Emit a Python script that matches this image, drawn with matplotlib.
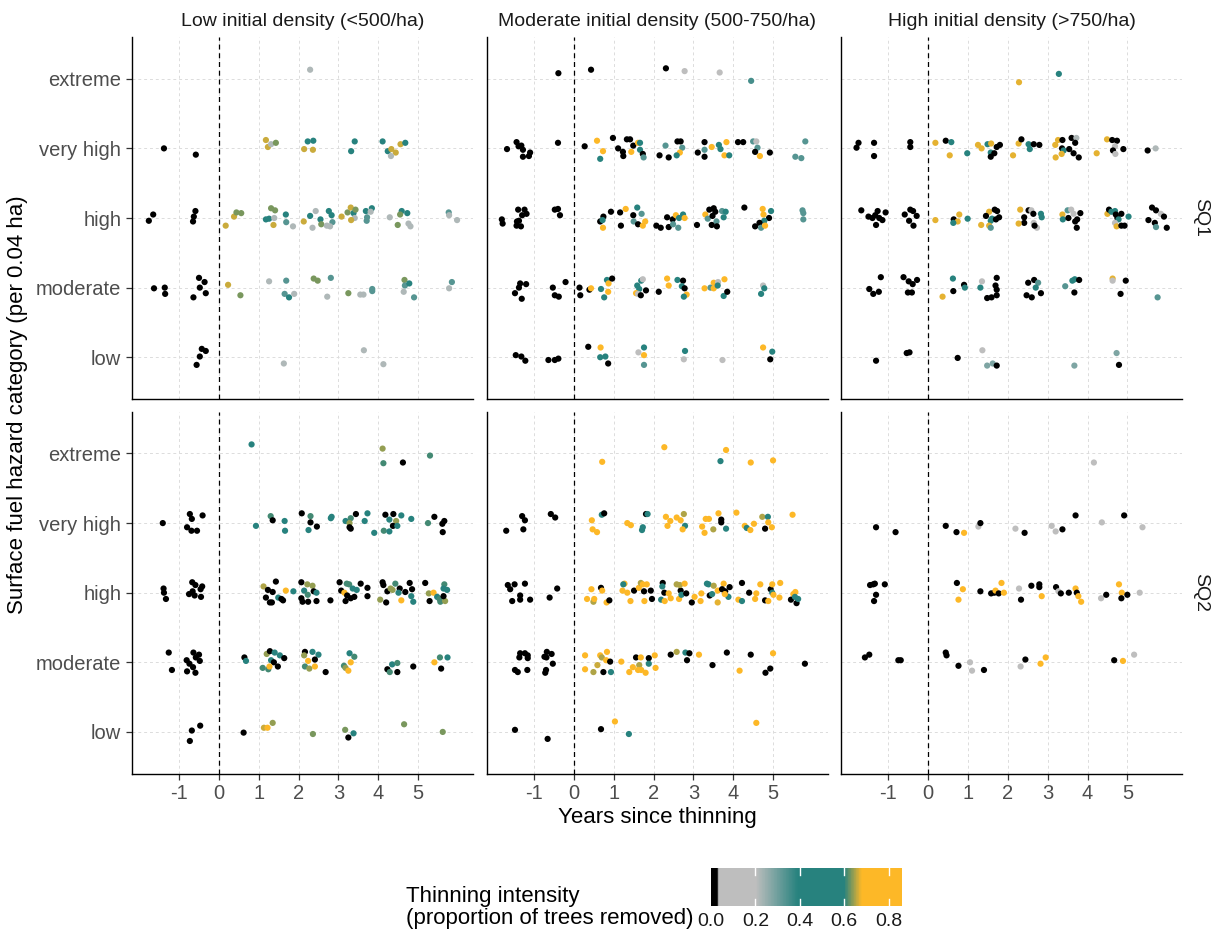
import matplotlib
matplotlib.use("Agg")
import matplotlib.pyplot as plt
import numpy as np
from matplotlib.colors import LinearSegmentedColormap, Normalize
from matplotlib.cm import ScalarMappable

plt.rcParams["font.family"] = ["Liberation Sans", "DejaVu Sans"]

# --- data: (years since thinning, hazard category + jitter, thinning intensity) ---
hazard_labels = ["low", "moderate", "high", "very high", "extreme"]
density_labels = ["Low initial density (<500/ha)",
                  "Moderate initial density (500-750/ha)",
                  "High initial density (>750/ha)"]
site_labels = ["SQ1", "SQ2"]
cbar_ticks = [0.0, 0.2, 0.4, 0.6, 0.8]

low_sq1 = [
    (2.29, 5.13, .22),
    (-1.38, 4.0, 0), (-0.58, 3.91, 0), (1.18, 4.12, .66), (1.23, 4.02, .66), (1.31, 4.06, .22), (1.43, 4.08, .63),
    (2.23, 4.10, .45), (2.37, 4.11, .45), (2.14, 3.99, .66), (2.36, 3.98, .66), (3.41, 4.10, .45), (3.32, 3.96, .45),
    (4.11, 4.10, .45), (4.24, 3.96, .45), (4.33, 3.99, .66), (4.44, 3.94, .66), (4.32, 3.89, .22), (4.56, 4.06, .66),
    (4.68, 4.08, .45),
    (-1.65, 3.05, 0), (-1.76, 2.96, 0), (-0.59, 3.10, 0), (-0.63, 3.02, 0), (-0.65, 2.95, 0), (0.17, 2.89, .66),
    (0.38, 3.02, .66), (0.44, 3.08, .63), (0.56, 3.07, .63), (1.18, 2.98, .45), (1.26, 2.99, .45), (1.31, 3.14, .63),
    (1.41, 3.11, .63), (1.39, 3.0, .22), (1.37, 2.90, .66), (1.68, 3.05, .45), (1.69, 2.94, .33), (1.86, 2.88, .22),
    (2.13, 2.95, .66), (2.29, 3.03, .45), (2.35, 2.86, .22), (2.43, 3.10, .22), (2.55, 2.98, .45), (2.57, 2.91, .63),
    (2.76, 3.10, .45), (2.83, 3.04, .45), (2.85, 2.94, .33), (2.71, 2.89, .22), (2.79, 2.88, .22), (3.08, 3.02, .66),
    (3.23, 3.08, .63), (3.31, 3.15, .66), (3.38, 3.07, .45), (3.43, 3.12, .63), (3.41, 3.0, .22), (3.32, 2.97, .66),
    (3.69, 3.10, .45), (3.84, 3.14, .45), (3.81, 3.09, .22), (3.72, 3.01, .33), (3.71, 2.96, .33), (4.29, 3.01, .22),
    (4.59, 3.10, .45), (4.55, 3.05, .63), (4.73, 3.07, .45), (4.49, 2.90, .63), (4.76, 2.92, .22), (4.81, 2.88, .22),
    (5.77, 3.08, .33), (5.78, 3.04, .22), (5.98, 2.97, .22),
    (-1.63, 1.99, 0), (-1.36, 2.0, 0), (-1.35, 1.91, 0), (-0.5, 2.14, 0), (-0.36, 2.08, 0), (-0.48, 2.0, 0),
    (-0.33, 1.92, 0), (-0.64, 1.86, 0), (0.23, 2.04, .66), (0.54, 1.89, .63), (1.26, 2.09, .22), (1.69, 2.10, .33),
    (1.65, 1.91, .33), (1.76, 1.86, .45), (1.89, 1.91, .22), (2.38, 2.13, .63), (2.48, 2.10, .63), (2.81, 2.14, .33),
    (2.72, 1.87, .22), (3.25, 1.92, .63), (3.55, 1.90, .22), (3.63, 1.90, .22), (3.85, 1.98, .33), (3.85, 1.95, .33),
    (4.66, 2.11, .63), (4.67, 2.03, .33), (4.78, 2.06, .45), (4.64, 1.94, .22), (4.90, 1.86, .33), (5.85, 2.08, .33),
    (5.78, 1.99, .22),
    (-0.43, 1.12, 0), (-0.33, 1.09, 0), (-0.48, 1.01, 0), (-0.56, 0.89, 0), (1.63, 0.91, .22), (3.64, 1.10, .22),
    (4.13, 0.90, .22),
]

mod_sq1 = [
    (-0.39, 5.08, 0), (0.43, 5.13, 0), (2.31, 5.15, 0), (2.78, 5.11, .1), (3.66, 5.09, .1), (4.45, 4.97, .35),
    (-1.68, 3.99, 0), (-1.44, 4.09, 0), (-1.39, 4.03, 0), (-1.32, 4.04, 0), (-1.28, 3.98, 0), (-1.28, 3.88, 0),
    (-1.10, 3.94, 0), (-1.13, 3.89, 0), (-0.40, 4.08, 0), (0.27, 4.03, 0), (0.58, 4.11, .8), (0.73, 3.96, .8),
    (0.66, 3.85, .45), (0.98, 4.15, 0), (1.11, 4.0, 0), (1.23, 3.95, 0), (1.24, 3.89, 0), (1.33, 4.13, 0),
    (1.41, 4.13, 0), (1.44, 3.95, .8), (1.49, 4.04, 0), (1.61, 4.08, .8), (1.66, 3.98, .45), (1.66, 4.08, .45),
    (1.73, 3.92, 0), (1.75, 3.87, .33), (2.15, 3.90, 0), (2.30, 4.04, .33), (2.38, 3.87, 0), (2.6, 4.10, 0),
    (2.68, 4.10, 0), (2.72, 4.01, .33), (2.66, 3.94, .8), (2.58, 3.90, .45), (3.11, 3.94, 0), (3.28, 4.09, 0),
    (3.28, 3.98, .33), (3.28, 3.88, 0), (3.46, 4.02, .8), (3.64, 4.05, .45), (3.68, 3.99, .45), (3.83, 4.09, .8),
    (3.78, 3.90, .8), (3.90, 3.90, .45), (4.12, 4.09, 0), (4.25, 4.09, 0), (4.5, 4.10, .33), (4.58, 4.10, .1),
    (4.61, 4.01, .33), (4.55, 3.95, 0), (4.67, 3.89, .8), (4.92, 3.94, 0), (5.56, 3.88, .33), (5.71, 3.86, .33),
    (5.81, 4.10, .33),
    (-1.81, 2.98, 0), (-1.79, 2.92, 0), (-1.4, 3.12, 0), (-1.24, 3.12, 0), (-1.19, 3.06, 0), (-1.3, 3.04, 0),
    (-1.43, 2.95, 0), (-1.44, 2.89, 0), (-1.33, 2.88, 0), (-1.38, 2.96, 0), (-0.48, 3.12, 0), (-0.40, 3.13, 0),
    (-0.35, 3.04, 0), (0.66, 2.95, 0), (0.74, 3.02, 0), (0.72, 2.97, .45), (0.73, 2.86, .8), (0.93, 3.09, 0),
    (1.16, 3.08, 0), (1.18, 2.89, 0), (1.3, 3.13, .8), (1.49, 3.04, 0), (1.5, 2.95, .33), (1.59, 3.15, .45),
    (1.70, 3.06, .33), (1.61, 2.91, 0), (1.73, 2.89, .8), (1.79, 2.95, .8), (2.07, 2.89, 0), (2.18, 2.86, 0),
    (2.34, 3.01, 0), (2.38, 2.87, 0), (2.48, 2.98, 0), (2.56, 3.04, .8), (2.49, 2.91, .33), (2.62, 2.86, .33),
    (2.64, 3.0, .45), (2.74, 3.05, .45), (2.78, 3.0, .8), (3.09, 2.90, 0), (3.3, 3.05, .8), (3.36, 2.99, .33),
    (3.4, 3.12, 0), (3.51, 3.14, 0), (3.55, 3.09, 0), (3.48, 3.03, 0), (3.58, 2.95, .33), (3.46, 2.90, 0),
    (3.59, 2.88, 0), (3.72, 3.10, .33), (3.81, 3.09, .45), (3.76, 3.01, .45), (4.28, 3.15, 0), (4.74, 3.13, .8),
    (4.95, 3.10, .45), (4.76, 3.05, .8), (4.9, 3.0, 0), (4.78, 2.96, .45), (4.66, 2.93, 0), (4.55, 2.88, 0),
    (4.7, 2.86, .33), (4.80, 2.89, .8), (5.74, 3.11, .33), (5.76, 3.07, .33), (5.76, 2.98, .33),
    (-1.35, 2.06, 0), (-1.38, 2.0, 0), (-1.48, 1.92, 0), (-1.31, 1.84, 0), (-1.2, 2.05, 0), (-0.53, 2.0, 0),
    (-0.48, 1.89, 0), (-0.38, 1.87, 0), (-0.21, 2.08, 0), (0.14, 2.0, 0), (0.16, 1.89, 0), (0.39, 1.97, 0),
    (0.43, 1.99, .8), (0.68, 1.98, .45), (0.83, 2.11, .45), (0.87, 2.06, .8), (0.96, 2.13, 0), (0.86, 1.94, .8),
    (0.76, 1.86, .45), (1.59, 2.03, .45), (1.69, 2.10, .45), (1.73, 2.12, .1), (1.64, 1.98, .45), (1.56, 1.92, .8),
    (1.61, 1.91, .1), (1.68, 1.89, 0), (1.81, 1.96, 0), (2.13, 1.94, 0), (2.34, 2.13, .8), (2.38, 2.03, .8),
    (2.6, 2.11, .45), (2.74, 2.10, 0), (2.71, 2.02, .45), (2.78, 1.99, 0), (2.83, 1.90, .8), (2.76, 1.87, .45),
    (3.28, 1.99, .8), (3.43, 2.0, .33), (3.51, 2.07, .8), (3.51, 1.99, .8), (3.62, 2.08, .1), (3.61, 2.03, .45),
    (3.78, 2.12, .8), (3.76, 1.88, .45), (3.85, 1.94, 0), (4.75, 2.03, .1), (4.78, 1.99, .45), (4.7, 1.91, .45),
    (-1.46, 1.03, 0), (-1.32, 1.01, 0), (-1.22, 0.95, 0), (-0.64, 0.96, 0), (-0.48, 0.96, 0), (-0.39, 0.98, 0),
    (0.36, 1.15, 0), (0.67, 1.14, .8), (0.66, 1.0, .45), (0.79, 1.01, .45), (0.86, 0.91, 0), (1.62, 1.07, .1),
    (1.76, 1.14, .45), (1.76, 1.03, .8), (1.76, 0.89, .33), (2.79, 1.09, .45), (2.76, 0.97, .1), (3.73, 0.96, .1),
    (4.75, 1.14, .8), (4.98, 1.08, .45), (4.93, 0.97, 0),
]

high_sq1 = [
    (2.28, 4.95, .67), (3.28, 5.07, .45),
    (-1.8, 4.01, 0), (-1.75, 4.08, 0), (-1.36, 4.08, 0), (-1.36, 3.89, 0), (-0.45, 4.09, 0), (-0.45, 4.02, 0),
    (0.18, 4.08, .67), (0.54, 3.90, .67), (0.44, 4.11, 0), (0.58, 4.09, .45), (0.98, 3.93, .45), (1.25, 4.05, .67),
    (1.34, 4.0, .67), (1.49, 4.06, .45), (1.58, 4.07, .67), (1.57, 3.94, .45), (1.66, 3.93, 0), (1.57, 3.88, 0),
    (1.72, 4.02, 0), (1.80, 4.05, 0), (2.13, 3.90, .67), (2.27, 4.07, .67), (2.34, 4.13, 0), (2.52, 4.06, .45),
    (2.55, 3.99, .45), (2.65, 4.06, 0), (2.79, 4.05, 0), (3.19, 4.05, .67), (3.2, 3.87, .67), (3.26, 4.12, .67),
    (3.37, 4.12, 0), (3.36, 4.0, 0), (3.4, 3.97, .45), (3.35, 3.92, .67), (3.6, 4.15, 0), (3.72, 4.15, .22),
    (3.69, 4.08, 0), (3.54, 3.99, 0), (3.65, 3.93, 0), (3.78, 3.87, 0), (4.23, 3.93, .67), (4.49, 4.13, .67),
    (4.62, 4.12, 0), (4.74, 4.11, 0), (4.69, 4.03, .1), (4.64, 3.97, 0), (4.70, 3.92, .1), (4.9, 3.99, 0),
    (5.51, 3.97, 0), (5.71, 4.0, .22),
    (-1.68, 3.11, 0), (-1.5, 3.02, 0), (-1.33, 3.04, 0), (-1.27, 3.10, 0), (-1.23, 3.0, 0), (-1.07, 3.08, 0),
    (-1.15, 2.97, 0), (-1.31, 2.90, 0), (-1.40, 3.0, 0), (-0.59, 3.05, 0), (-0.45, 3.12, 0), (-0.38, 3.10, 0),
    (-0.29, 3.03, 0), (-0.37, 2.89, 0), (-0.48, 2.96, 0), (0.18, 2.97, .67), (0.64, 2.98, 0), (0.74, 2.95, .67),
    (0.63, 2.93, .45), (0.78, 3.05, .67), (0.99, 2.99, .45), (1.33, 2.90, .67), (1.53, 3.09, .67), (1.45, 3.03, 0),
    (1.60, 2.99, .45), (1.57, 2.96, .45), (1.53, 2.89, .67), (1.57, 2.86, .33), (1.67, 3.12, 0), (1.73, 3.10, 0),
    (1.78, 3.01, 0), (1.70, 2.98, 0), (2.31, 3.12, .67), (2.41, 3.01, 0), (2.41, 2.93, 0), (2.27, 2.92, .67),
    (2.52, 3.11, 0), (2.59, 3.11, .1), (2.64, 3.06, 0), (2.65, 2.93, .1), (2.73, 2.86, .1), (2.67, 2.89, 0),
    (2.83, 3.06, .45), (2.85, 3.01, .45), (3.37, 3.05, .67), (3.38, 2.98, .45), (3.5, 3.11, .33), (3.59, 3.12, .1),
    (3.52, 3.0, 0), (3.65, 3.06, .1), (3.69, 2.95, 0), (3.74, 2.98, 0), (3.82, 3.07, 0), (3.73, 2.86, 0),
    (4.5, 3.06, .67), (4.54, 3.12, 0), (4.60, 3.09, .45), (4.69, 3.10, .45), (4.71, 3.05, 0), (4.85, 3.06, 0),
    (4.75, 3.0, 0), (4.78, 2.98, .45), (4.69, 2.93, .1), (4.73, 2.88, .67), (4.85, 2.89, 0), (4.93, 2.89, 0),
    (5.03, 3.02, .45), (5.62, 3.15, 0), (5.72, 3.11, 0), (5.84, 3.06, .1), (5.92, 3.02, 0), (5.53, 2.97, 0),
    (5.69, 2.93, 0), (5.72, 2.87, .33), (5.99, 2.86, 0),
    (-1.19, 2.15, 0), (-1.48, 1.98, 0), (-1.38, 1.91, 0), (-1.24, 1.94, 0), (-0.62, 2.15, 0), (-0.49, 2.09, 0),
    (-0.28, 2.11, 0), (-0.39, 2.05, 0), (-0.51, 1.93, 0), (-0.41, 1.93, 0), (0.36, 1.87, .67), (0.62, 2.13, .45),
    (0.63, 1.95, 0), (0.9, 2.04, 0), (0.92, 2.0, .45), (1.35, 2.09, .1), (1.31, 2.0, .45), (1.72, 2.14, 0),
    (1.69, 2.03, 0), (1.72, 1.97, 0), (1.72, 1.89, 0), (1.59, 1.86, 0), (1.48, 1.85, 0), (2.51, 2.07, 0),
    (2.66, 2.11, 0), (2.76, 2.07, .33), (2.70, 2.0, .45), (2.47, 1.89, 0), (2.60, 1.86, 0), (2.83, 1.92, 0),
    (3.44, 2.02, .33), (3.62, 2.10, .45), (3.68, 2.12, .45), (3.79, 2.11, 0), (3.67, 1.93, 0), (4.63, 2.13, .67),
    (4.63, 2.10, .1), (4.96, 2.10, 0), (4.83, 1.91, 0), (5.76, 1.86, .33),
    (-1.31, 0.95, 0), (-0.54, 1.06, 0), (-0.47, 1.07, 0), (0.74, 0.99, 0), (1.36, 1.10, .1), (1.48, 0.88, .28),
    (1.62, 0.91, .28), (1.72, 0.88, 0), (3.67, 0.88, .28), (4.73, 1.06, .28), (4.79, 0.89, 0),
]

low_sq2 = [
    (0.82, 5.13, .45), (4.11, 5.07, .64), (4.13, 4.86, .61), (4.62, 4.87, 0), (5.30, 4.97, .61),
    (-1.41, 4.0, 0), (-0.73, 4.13, 0), (-0.68, 4.06, 0), (-0.41, 4.11, 0), (-0.80, 3.94, 0), (-0.69, 3.89, 0),
    (-0.55, 3.89, 0), (0.93, 3.96, .45), (1.30, 4.10, .61), (1.35, 4.04, 0), (1.65, 4.03, .45), (1.66, 3.89, .45),
    (2.08, 4.14, 0), (2.3, 4.10, .61), (2.3, 4.01, 0), (2.46, 3.95, 0), (2.25, 3.90, .45), (2.81, 4.07, .45),
    (2.83, 4.09, .45), (3.18, 4.03, .45), (3.31, 4.07, .61), (3.28, 4.0, .64), (3.28, 3.94, 0), (3.31, 3.92, 0),
    (3.44, 4.13, 0), (3.66, 4.03, .45), (3.73, 4.14, .45), (3.9, 3.86, .45), (4.18, 4.12, 0), (4.38, 4.13, 0),
    (4.28, 4.05, .45), (4.45, 4.03, .64), (4.37, 3.96, 0), (4.48, 3.96, .45), (4.58, 4.11, .45), (4.14, 3.89, .61),
    (4.28, 3.88, .45), (4.83, 4.06, .45), (5.25, 4.0, .61), (5.41, 4.09, 0), (5.66, 4.03, 0), (5.61, 3.99, 0),
    (5.62, 3.87, 0),
    (-1.39, 3.06, 0), (-1.38, 3.0, 0), (-1.33, 2.91, 0), (-0.67, 3.15, 0), (-0.59, 3.11, 0), (-0.42, 3.09, 0),
    (-0.46, 3.05, 0), (-0.66, 3.02, 0), (-0.75, 2.98, 0), (-0.61, 2.96, 0), (-0.45, 2.94, 0), (1.12, 3.09, .65),
    (1.43, 3.16, 0), (1.23, 3.04, 0), (1.35, 3.01, 0), (1.18, 2.93, 0), (1.28, 2.86, 0), (1.33, 2.86, 0),
    (1.49, 2.93, .45), (1.57, 2.91, 0), (1.61, 2.89, 0), (1.68, 3.03, .7), (1.87, 3.02, .45), (2.07, 3.15, 0),
    (2.22, 3.12, .64), (2.35, 3.10, .64), (2.14, 3.03, .45), (2.38, 3.02, 0), (2.45, 3.0, .45), (2.23, 2.97, .61),
    (2.07, 2.92, 0), (2.1, 2.87, 0), (2.24, 2.87, 0), (2.45, 2.88, 0), (2.8, 2.89, 0), (3.03, 3.15, 0),
    (3.21, 3.13, .61), (3.27, 3.12, .61), (3.07, 3.03, 0), (3.15, 3.0, .7), (3.22, 2.96, 0), (3.36, 3.06, .45),
    (3.46, 3.04, .45), (3.56, 3.13, 0), (3.4, 2.94, 0), (3.31, 2.92, 0), (3.18, 2.88, 0), (3.73, 3.07, 0),
    (3.73, 2.95, 0), (4.11, 3.15, 0), (4.13, 3.11, 0), (4.05, 2.90, .64), (4.2, 2.86, 0), (4.23, 3.02, 0),
    (4.31, 3.06, .64), (4.36, 3.04, .64), (4.43, 3.13, .61), (4.54, 3.06, 0), (4.51, 3.0, .45), (4.58, 2.89, .7),
    (4.68, 3.01, 0), (4.79, 3.14, 0), (4.85, 3.05, 0), (4.83, 2.95, .45), (4.88, 2.87, .45), (5.18, 3.14, 0),
    (5.27, 2.99, .64), (5.39, 3.0, .7), (5.29, 2.88, 0), (5.48, 2.94, .45), (5.54, 2.91, .61), (5.66, 3.12, .61),
    (5.64, 3.06, .45), (5.73, 3.04, .45), (5.56, 2.87, .61), (5.68, 2.88, .64), (5.64, 2.95, 0),
    (-1.26, 2.14, 0), (-1.18, 1.89, 0), (-0.64, 2.14, 0), (-0.5, 2.11, 0), (-0.81, 2.03, 0), (-0.74, 1.98, 0),
    (-0.58, 2.07, 0), (-0.48, 2.02, 0), (-0.65, 1.93, 0), (-0.8, 1.87, 0), (-0.59, 1.85, 0), (0.64, 2.07, 0),
    (0.68, 2.02, .45), (1.2, 2.12, .64), (1.28, 2.16, 0), (1.4, 2.14, .45), (1.53, 2.10, .45), (1.64, 2.06, 0),
    (1.31, 2.03, .45), (1.38, 2.0, 0), (1.1, 1.92, .61), (1.24, 1.90, .61), (1.27, 1.94, .7), (1.48, 1.94, 0),
    (2.16, 2.15, 0), (2.14, 2.10, .64), (2.35, 2.15, .45), (2.5, 2.11, .45), (2.24, 2.02, .7), (2.41, 2.04, 0),
    (2.16, 1.94, .61), (2.27, 1.91, .64), (2.41, 1.94, .7), (2.68, 1.86, 0), (3.28, 2.13, .45), (3.4, 2.08, .61),
    (3.14, 1.95, .61), (3.18, 1.92, .64), (3.31, 2.0, .7), (3.25, 1.88, .7), (4.23, 1.90, 0), (4.29, 1.86, .61),
    (4.35, 1.97, .45), (4.48, 1.99, .61), (4.48, 1.86, 0), (4.88, 1.94, 0), (5.41, 2.0, .7), (5.55, 2.07, .61),
    (5.74, 2.07, .45), (5.58, 1.91, 0),
    (-0.47, 1.09, 0), (-0.68, 1.02, 0), (-0.73, 0.87, 0), (0.62, 0.99, 0), (1.13, 1.06, .66), (1.22, 1.06, .7),
    (1.35, 1.13, .64), (2.36, 0.97, .63), (3.17, 1.03, .63), (3.38, 0.98, .45), (3.25, 0.92, 0), (4.65, 1.11, .63),
    (5.62, 1.0, .63),
]

mod_sq2 = [
    (0.71, 4.88, .8), (2.27, 5.09, .8), (3.82, 5.05, .8), (3.68, 4.89, .45), (4.44, 4.87, .8), (5.0, 4.90, .8),
    (-1.7, 3.89, 0), (-1.3, 4.10, 0), (-1.23, 4.04, 0), (-1.27, 3.91, 0), (-0.58, 4.13, 0), (-0.47, 4.08, 0),
    (0.45, 4.04, .8), (0.47, 3.91, .8), (0.58, 3.87, .8), (0.7, 4.12, .45), (0.76, 4.14, 0), (1.34, 4.0, .8),
    (1.43, 3.97, .8), (1.73, 3.94, .55), (1.71, 3.90, .45), (1.81, 4.13, 0), (1.85, 4.13, .45), (2.31, 4.09, .8),
    (2.42, 4.03, .8), (2.58, 4.08, .8), (2.35, 3.96, .8), (2.68, 4.04, .8), (2.76, 4.13, .65), (2.79, 3.96, .45),
    (2.73, 3.91, .8), (3.22, 3.95, .8), (3.31, 4.06, .8), (3.39, 4.06, .8), (3.28, 3.86, .8), (3.5, 3.91, .65),
    (3.63, 4.14, .8), (3.7, 4.05, 0), (3.7, 4.01, 0), (3.82, 3.92, .45), (4.08, 4.15, .8), (4.29, 3.96, .8),
    (4.34, 3.93, .45), (4.43, 3.9, .8), (4.52, 3.99, .8), (4.73, 4.09, .65), (4.87, 4.09, .45), (4.88, 4.01, .8),
    (4.8, 3.92, 0), (4.97, 3.94, .8), (5.49, 4.12, .8),
    (-1.66, 3.11, 0), (-1.49, 3.12, 0), (-1.23, 3.13, 0), (-1.6, 3.05, 0), (-1.35, 2.96, 0), (-1.35, 2.90, 0),
    (-1.55, 2.88, 0), (-1.1, 2.90, 0), (-0.61, 2.93, 0), (-0.42, 3.06, 0), (0.44, 3.05, .8), (0.68, 3.07, 0),
    (0.71, 3.03, .8), (0.33, 2.91, .8), (0.49, 2.87, .65), (0.51, 2.91, .8), (0.82, 2.86, .8), (0.89, 2.89, 0),
    (1.22, 3.03, .8), (1.27, 3.13, .8), (1.24, 3.12, .45), (1.34, 3.0, .8), (1.42, 2.88, .8), (1.51, 3.03, 0),
    (1.63, 3.07, .8), (1.68, 3.14, .65), (1.73, 3.12, .8), (1.76, 3.02, 0), (1.83, 3.12, .8), (1.77, 2.88, .8),
    (1.93, 3.03, 0), (1.96, 2.91, 0), (2.19, 2.90, .45), (2.23, 3.14, 0), (2.22, 3.09, .45), (2.28, 2.88, .8),
    (2.27, 3.0, 0), (2.38, 2.99, .8), (2.43, 2.92, .8), (2.58, 3.12, .65), (2.64, 2.91, .8), (2.68, 3.03, 0),
    (2.66, 3.11, .65), (2.7, 2.97, .45), (2.78, 3.13, .8), (2.82, 2.99, 0), (2.96, 2.86, 0), (3.03, 2.94, .8),
    (3.2, 2.99, .8), (3.18, 2.88, .8), (3.34, 3.13, .45), (3.38, 3.12, .45), (3.41, 2.96, 0), (3.47, 2.98, .45),
    (3.51, 3.10, .65), (3.61, 3.03, .8), (3.61, 2.86, .67), (3.76, 3.13, .8), (3.72, 3.05, 0), (3.8, 3.02, 0),
    (3.91, 3.08, 0), (3.88, 2.94, .45), (3.79, 2.98, .8), (4.13, 2.90, .8), (4.22, 3.14, 0), (4.22, 2.88, .45),
    (4.4, 3.0, 0), (4.58, 2.99, .8), (4.55, 2.91, .8), (4.68, 3.12, .8), (4.8, 2.89, 0), (4.88, 2.88, .8),
    (4.94, 3.05, 0), (4.98, 3.12, .8), (4.98, 3.0, .45), (5.01, 2.97, .8), (5.18, 3.14, .8), (5.16, 2.93, .8),
    (5.51, 2.98, .8), (5.56, 3.01, .8), (5.45, 2.90, 0), (5.59, 2.85, 0), (5.63, 2.91, .45), (5.55, 2.94, .45),
    (-1.35, 2.13, 0), (-1.23, 2.13, 0), (-1.16, 2.10, 0), (-1.37, 2.07, 0), (-1.16, 2.06, 0), (-1.48, 1.89, 0),
    (-1.41, 1.86, 0), (-1.17, 1.89, 0), (-0.68, 2.15, 0), (-0.56, 2.12, 0), (-0.74, 2.08, 0), (-0.69, 2.07, 0),
    (-0.7, 1.89, 0), (-0.72, 1.85, 0), (-0.53, 1.98, 0), (0.28, 2.10, .8), (0.28, 1.90, .8), (0.49, 1.86, .65),
    (0.59, 1.96, .66), (0.66, 2.10, .8), (0.7, 2.07, .65), (0.83, 2.15, .8), (0.81, 2.03, .8), (0.91, 2.01, 0),
    (0.74, 1.86, 0), (0.93, 1.86, .45), (1.19, 2.01, .8), (1.39, 1.86, .8), (1.48, 1.93, .8), (1.56, 2.07, 0),
    (1.68, 2.07, .8), (1.64, 1.96, .65), (1.61, 1.89, .8), (1.69, 1.89, .8), (1.8, 1.85, .8), (1.88, 2.06, 0),
    (1.88, 1.98, .45), (2.03, 2.10, .8), (2.05, 1.92, .8), (2.43, 2.11, 0), (2.58, 2.15, .65), (2.8, 2.14, .45),
    (2.9, 2.13, 0), (2.84, 2.03, 0), (3.14, 2.11, .8), (3.48, 1.96, 0), (3.84, 2.14, 0), (4.16, 1.88, .8),
    (4.44, 2.11, 0), (4.81, 1.85, 0), (4.93, 1.91, 0), (5.0, 2.13, .7), (5.8, 1.98, 0),
    (-1.48, 1.03, 0), (-0.66, 0.90, 0), (0.68, 1.04, 0), (1.03, 1.15, .8), (1.38, 0.97, .45), (4.58, 1.13, .8),
]

high_sq2 = [
    (4.16, 4.87, .1),
    (-1.31, 3.94, 0), (-0.82, 3.87, 0), (0.44, 3.96, 0), (0.71, 3.87, 0), (0.9, 3.86, .8), (1.26, 3.95, .1),
    (1.31, 4.0, 0), (2.19, 3.92, .1), (2.42, 3.86, 0), (3.1, 3.96, .1), (3.2, 3.88, .1), (3.37, 3.91, 0),
    (3.7, 4.11, 0), (4.36, 4.01, .1), (4.92, 4.11, 0), (5.38, 3.94, .1),
    (-1.46, 3.11, 0), (-1.38, 3.12, 0), (-1.34, 3.13, 0), (-1.09, 3.12, 0), (-1.31, 2.97, 0), (-1.36, 2.88, 0),
    (0.72, 3.14, 0), (0.87, 3.05, .8), (0.76, 2.90, .8), (1.31, 3.02, 0), (1.58, 2.99, 0), (1.66, 3.0, 0),
    (1.69, 3.03, .8), (1.77, 2.99, 0), (1.84, 3.14, .8), (1.9, 3.0, .8), (2.28, 3.06, .1), (2.33, 2.90, 0),
    (2.59, 3.10, 0), (2.79, 3.12, 0), (2.79, 3.08, 0), (2.85, 2.95, .8), (3.21, 3.08, 0), (3.27, 3.02, .1),
    (3.33, 2.99, 0), (3.53, 3.0, 0), (3.7, 3.06, .8), (3.73, 3.0, 0), (3.77, 2.95, .8), (3.84, 2.87, .8),
    (4.34, 2.92, .1), (4.47, 2.97, 0), (4.79, 3.12, .8), (4.86, 3.0, .8), (4.85, 2.92, 0), (5.0, 2.97, 0),
    (5.31, 3.0, .1),
    (-1.59, 2.07, 0), (-1.48, 2.11, 0), (-0.75, 2.03, 0), (-0.69, 2.03, 0), (0.44, 2.14, 0), (0.46, 2.10, 0),
    (0.76, 1.95, 0), (1.05, 2.0, .1), (1.1, 1.88, .1), (1.4, 1.89, 0), (2.32, 1.94, .1), (2.44, 2.04, 0),
    (2.82, 1.98, .8), (2.95, 2.07, .8), (4.67, 2.03, 0), (4.89, 2.02, .8), (5.17, 2.11, .1),
]

panels = [[low_sq1, mod_sq1, high_sq1], [low_sq2, mod_sq2, high_sq2]]

# colour scale: black -> grey -> teal -> gold
vmax = 0.86
stops = [(0, "#000000"), (0.025, "#000000"), (0.035, "#BEBEBE"), (0.2, "#BEBEBE"),
         (0.39, "#27827E"), (0.6, "#27827E"), (0.68, "#FDB827"), (vmax, "#FDB827")]
cmap = LinearSegmentedColormap.from_list("thin", [(v / vmax, c) for v, c in stops])
norm = Normalize(0, vmax)

W, H = 1218, 934
fig = plt.figure(figsize=(W / 100, H / 100), dpi=100)


def px_axes(x, y, w, h):
    return fig.add_axes([x / W, 1 - (y + h) / H, w / W, h / H])


col_left = [131.7, 486.7, 841.0]
row_top = [37.0, 411.7]
pw, ph = 341.3, 362.0

for r in range(2):
    for c in range(3):
        ax = px_axes(col_left[c], row_top[r], pw, ph)
        yr, hz, th = zip(*panels[r][c])
        ax.scatter(yr, hz, c=th, cmap=cmap, norm=norm, s=20, linewidths=0, zorder=3)
        ax.axvline(0, color="black", lw=0.9, ls=(0, (4, 3)), zorder=2)
        ax.set_xlim(-2.19, 6.38)
        ax.set_ylim(0.4, 5.6)
        ax.set_xticks(range(-1, 6))
        ax.set_yticks(range(1, 6))
        ax.grid(True, color="#DCDCDC", lw=0.7, ls=(0, (3, 3)), zorder=0)
        for s in ["top", "right"]:
            ax.spines[s].set_visible(False)
        for s in ["left", "bottom"]:
            ax.spines[s].set_color("black")
            ax.spines[s].set_linewidth(1.0)
        ax.tick_params(colors="#333333", labelcolor="#4D4D4D", labelsize=14.5, length=4, width=0.9)
        if c == 0:
            ax.set_yticklabels(hazard_labels)
        else:
            ax.tick_params(axis="y", left=False, labelleft=False)
        if r == 1:
            ax.set_xticklabels([str(v) for v in range(-1, 6)])
        else:
            ax.tick_params(axis="x", bottom=False, labelbottom=False)

# facet strips
for c in range(3):
    fig.text((col_left[c] + pw / 2) / W, 1 - 26 / H, density_labels[c], ha="center", va="baseline",
             fontsize=14, color="#1A1A1A")
for r in range(2):
    fig.text(1201 / W, 1 - (row_top[r] + ph / 2) / H, site_labels[r], ha="center", va="center",
             rotation=270, fontsize=14, color="#1A1A1A")

fig.text(657 / W, 1 - 818 / H, "Years since thinning", ha="center", va="center", fontsize=16)
fig.text(18 / W, 1 - 405 / H, "Surface fuel hazard category (per 0.04 ha)", ha="center", va="center",
         rotation=90, fontsize=16)

# colour bar legend (white tick marks drawn inside the bar, none on the black end)
cax = px_axes(711, 868, 191, 38)
cb = fig.colorbar(ScalarMappable(norm=norm, cmap=cmap), cax=cax, orientation="horizontal")
cb.outline.set_visible(False)
cb.set_ticks(cbar_ticks)
cb.set_ticklabels([f"{t:.1f}" for t in cbar_ticks])
cax.tick_params(length=0, labelsize=14, labelcolor="#1A1A1A", pad=5)
for t in cbar_ticks[1:]:
    cax.plot([t, t], [0, 0.19], color="white", lw=1, transform=cax.get_xaxis_transform())
    cax.plot([t, t], [0.81, 1], color="white", lw=1, transform=cax.get_xaxis_transform())
fig.text(406 / W, 1 - 902 / H, "Thinning intensity", ha="left", va="baseline", fontsize=16)
fig.text(406 / W, 1 - 924 / H, "(proportion of trees removed)", ha="left", va="baseline", fontsize=16)

fig.savefig("out.png", dpi=100)
